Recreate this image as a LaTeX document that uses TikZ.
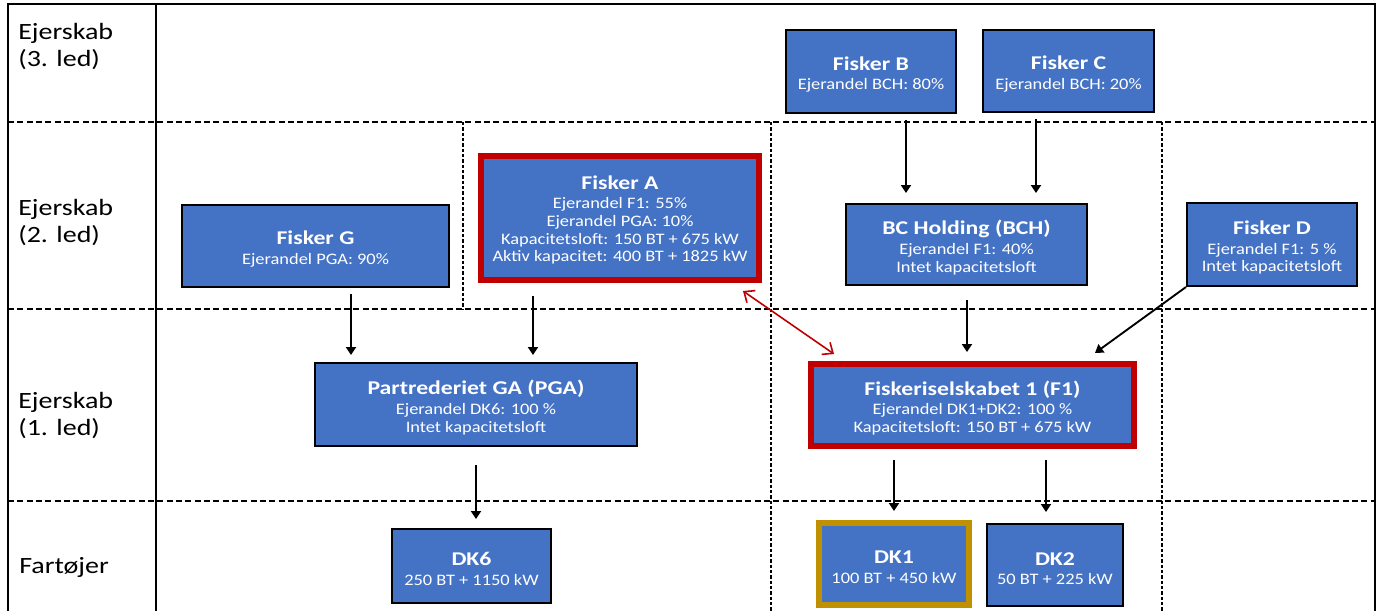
\documentclass[tikz,border=0pt]{standalone}
\usepackage{fontspec}
\usetikzlibrary{arrows.meta,calc}
\newfontfamily\calfont[FakeStretch=1.15]{Carlito}
\newfontfamily\caltitlefont[FakeStretch=1.22]{Carlito}
\newfontfamily\callabelfont[FakeStretch=1.2]{Carlito}
\newcommand\boxtxtfont{\calfont\fontsize{12}{13.25}\selectfont}
\newcommand\boxtitlefont{\caltitlefont\bfseries\fontsize{14.6}{16}\selectfont}
\newcommand\rowlabelfont{\callabelfont\fontsize{17.5}{20.25}\selectfont}
\definecolor{boxblue}{HTML}{4472C4}
\definecolor{redb}{HTML}{C00000}
\definecolor{goldb}{HTML}{BF9000}
\begin{document}
\begin{tikzpicture}[x=0.75pt,y=-0.75pt,
  box/.style={draw=black,line width=1.5pt,fill=boxblue,inner sep=0pt},
  redbox/.style={box,draw=redb,line width=4.5pt},
  goldbox/.style={box,draw=goldb,line width=4.5pt},
  boxtext/.style={text=white,align=center,inner sep=0pt,font=\boxtxtfont},
  arr/.style={line width=1.4pt,-{Triangle[width=7.5pt,length=6pt]}},
  rarr/.style={draw=redb,line width=1.2pt,{Straight Barb[length=6.5pt,width=11pt]}-{Straight Barb[length=6.5pt,width=11pt]}},
  lbl/.style={anchor=west,align=left,font=\rowlabelfont,inner sep=0pt},
  frameline/.style={line width=1.5pt},
  hdash/.style={line width=0.9pt,dash pattern=on 4.5pt off 2.5pt},
  vdot/.style={line width=0.9pt,dash pattern=on 2.5pt off 1.5pt}]
\useasboundingbox (0,0) rectangle (1378,611);
% grid
\draw[hdash] (8,122) -- (1375,122);
\draw[hdash] (8,309) -- (1375,309);
\draw[hdash] (8,501) -- (1375,501);
\draw[vdot] (463,122) -- (463,309);
\draw[vdot] (771,122) -- (771,611);
\draw[vdot] (1162,122) -- (1162,611);
\draw[frameline] (8,611) -- (8,4) -- (1375,4) -- (1375,611);
\draw[frameline] (156,4) -- (156,611);
% row labels
\node[lbl] (L3) at (18,47) {Ejerskab\\(3. led)};
\node[lbl] (L2) at (18,223) {Ejerskab\\(2. led)};
\node[lbl] (L1) at (18,416) {Ejerskab\\(1. led)};
\node[lbl] (L0) at (19,567) {Fartøjer};
% boxes
\node[box,minimum width=127.5pt,minimum height=62.25pt] (FB) at (871,71.5) {};
\node[boxtext] (FBt) at ($(FB)+(0,3)$) {{\boxtitlefont Fisker B}\\[1.5pt]Ejerandel BCH: 80\%};
\node[box,minimum width=128.25pt,minimum height=61.5pt] (FC) at (1068.5,71) {};
\node[boxtext] (FCt) at ($(FC)+(0,3)$) {{\boxtitlefont Fisker C}\\[1.5pt]Ejerandel BCH: 20\%};
\node[box,minimum width=200.25pt,minimum height=61.5pt] (FG) at (315.5,246) {};
\node[boxtext] (FGt) at ($(FG)+(0,3)$) {{\boxtitlefont Fisker G}\\[1.5pt]Ejerandel PGA: 90\%};
\node[redbox,minimum width=208.5pt,minimum height=93pt] (FA) at (620,218) {};
\node[boxtext] (FAt) at ($(FA)+(0,2)$) {{\boxtitlefont Fisker A}\\[1.5pt]Ejerandel F1: 55\%\\Ejerandel PGA: 10\%\\Kapacitetsloft: 150 BT + 675 kW\\Aktiv kapacitet: 400 BT + 1825 kW};
\node[box,minimum width=180.75pt,minimum height=60.75pt] (BCH) at (966.5,244.5) {};
\node[boxtext] (BCHt) at ($(BCH)+(0,3)$) {{\boxtitlefont BC Holding (BCH)}\\[1.5pt]Ejerandel F1: 40\%\\Intet kapacitetsloft};
\node[box,minimum width=127.5pt,minimum height=62.25pt] (FD) at (1272,244.5) {};
\node[boxtext] (FDt) at ($(FD)+(0,3)$) {{\boxtitlefont Fisker D}\\[1.5pt]Ejerandel F1: 5 \%\\Intet kapacitetsloft};
\node[box,minimum width=241.5pt,minimum height=62.25pt] (PGA) at (476,404.5) {};
\node[boxtext] (PGAt) at ($(PGA)+(0,3)$) {{\boxtitlefont Partrederiet GA (PGA)}\\[1.5pt]Ejerandel DK6: 100 \%\\Intet kapacitetsloft};
\node[redbox,minimum width=242.25pt,minimum height=61.5pt] (F1) at (972.5,405) {};
\node[boxtext] (F1t) at ($(F1)+(0,3)$) {{\boxtitlefont Fiskeriselskabet 1 (F1)}\\[1.5pt]Ejerandel DK1+DK2: 100 \%\\Kapacitetsloft: 150 BT + 675 kW};
\node[box,minimum width=119.25pt,minimum height=55.5pt] (DK6) at (471.5,566) {};
\node[boxtext] (DK6t) at ($(DK6)+(0,3)$) {{\boxtitlefont DK6}\\[1.5pt]250 BT + 1150 kW};
\node[goldbox,minimum width=112.5pt,minimum height=61.5pt] (DK1) at (894,564) {};
\node[boxtext] (DK1t) at ($(DK1)+(0,3)$) {{\boxtitlefont DK1}\\[1.5pt]100 BT + 450 kW};
\node[box,minimum width=102pt,minimum height=61.5pt] (DK2) at (1055,565) {};
\node[boxtext] (DK2t) at ($(DK2)+(0,3.5)$) {{\boxtitlefont DK2}\\[1.5pt]50 BT + 225 kW};
% arrows
\draw[arr] ($(FB.south)+(35,6)$) -- ($(BCH.north)+(-60.5,-10)$);
\draw[arr] ($(FC.south)+(-32.5,6)$) -- ($(BCH.north)+(69.5,-10)$);
\draw[arr] ($(FG.south)+(35.5,6)$) -- ($(PGA.north)+(-125,-7)$);
\draw[arr] ($(FA.south)+(-87,13)$) -- ($(PGA.north)+(57,-7)$);
\draw[arr] ($(BCH.south)+(0.5,14)$) -- ($(F1.north)+(-5.5,-9)$);
\draw[arr] (FD.south west) -- ($(F1.north)+(122.5,-8)$);
\draw[rarr] ($(FA.south east)+(-19,8)$) -- ($(F1.north west)+(26,-7)$);
\draw[arr] ($(PGA.south)+(0,18)$) -- ($(DK6.north)+(4.5,-9)$);
\draw[arr] ($(F1.south)+(-78.5,11)$) -- ($(DK1.north)+(0,-9)$);
\draw[arr] ($(F1.south)+(73.5,11)$) -- ($(DK2.north)+(-9,-11)$);
\end{tikzpicture}
\end{document}
